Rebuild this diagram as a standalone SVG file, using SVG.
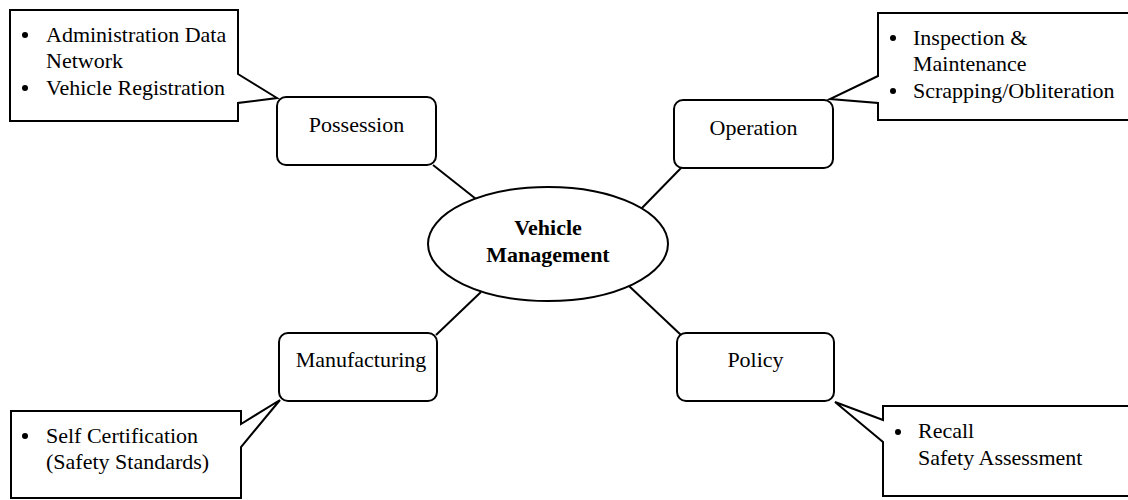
<svg xmlns="http://www.w3.org/2000/svg" width="1128" height="500" viewBox="0 0 1128 500">
<style>
.t{font-family:"Liberation Serif","Times New Roman",serif;font-size:22px;fill:#000}
.b{font-weight:bold}
.box{fill:#fff;stroke:#000;stroke-width:2}
.ln{stroke:#000;stroke-width:2;fill:none}
.dot{fill:#000}
</style>
<rect width="1128" height="500" fill="#fff"/>
<g id="connectors">
<line class="ln" x1="433" y1="165" x2="476" y2="199"/>
<line class="ln" x1="682" y1="167" x2="641" y2="209"/>
<line class="ln" x1="436" y1="335" x2="481" y2="292"/>
<line class="ln" x1="681" y1="335" x2="629" y2="286"/>
</g>
<g id="center">
<ellipse class="box" cx="548" cy="244" rx="120" ry="57"/>
<text class="t b" x="548" y="235" text-anchor="middle">Vehicle</text>
<text class="t b" x="548" y="262" text-anchor="middle">Management</text>
</g>
<g id="possession">
<rect class="box" x="277" y="97" width="159" height="68" rx="9"/>
<text class="t" x="356.5" y="132" text-anchor="middle">Possession</text>
</g>
<g id="operation">
<rect class="box" x="674" y="100" width="159" height="68" rx="9"/>
<text class="t" x="753.5" y="135" text-anchor="middle">Operation</text>
</g>
<g id="manufacturing">
<rect class="box" x="279" y="333" width="158" height="68" rx="9"/>
<text class="t" x="361" y="367" text-anchor="middle">Manufacturing</text>
</g>
<g id="policy">
<rect class="box" x="677" y="333" width="157" height="68" rx="9"/>
<text class="t" x="755.5" y="367" text-anchor="middle">Policy</text>
</g>
<g id="callout-possession">
<path class="box" d="M10 10 H238 V74 L277 98 L238 103 V121 H10 Z"/>
<circle class="dot" cx="25" cy="35" r="3"/>
<text class="t" x="46" y="42">Administration Data</text>
<text class="t" x="46" y="68">Network</text>
<circle class="dot" cx="25" cy="88" r="3"/>
<text class="t" x="46" y="95">Vehicle Registration</text>
</g>
<g id="callout-operation">
<path class="box" d="M878 13 H1132 V120 H878 V103 L830 99 L878 76 Z"/>
<circle class="dot" cx="893" cy="38" r="3"/>
<text class="t" x="913" y="45">Inspection &amp;</text>
<text class="t" x="913" y="71">Maintenance</text>
<circle class="dot" cx="893" cy="91" r="3"/>
<text class="t" x="913" y="98">Scrapping/Obliteration</text>
</g>
<g id="callout-manufacturing">
<path class="box" d="M11 411 H241 V424 L280 400 L241 447 V498 H11 Z"/>
<circle class="dot" cx="25" cy="436" r="3"/>
<text class="t" x="46" y="443">Self Certification</text>
<text class="t" x="46" y="469">(Safety Standards)</text>
</g>
<g id="callout-policy">
<path class="box" d="M883 406 H1132 V496 H883 V442 L835 402 L883 420 Z"/>
<circle class="dot" cx="898" cy="432" r="3"/>
<text class="t" x="918" y="438">Recall</text>
<text class="t" x="918" y="465">Safety Assessment</text>
</g>
</svg>
